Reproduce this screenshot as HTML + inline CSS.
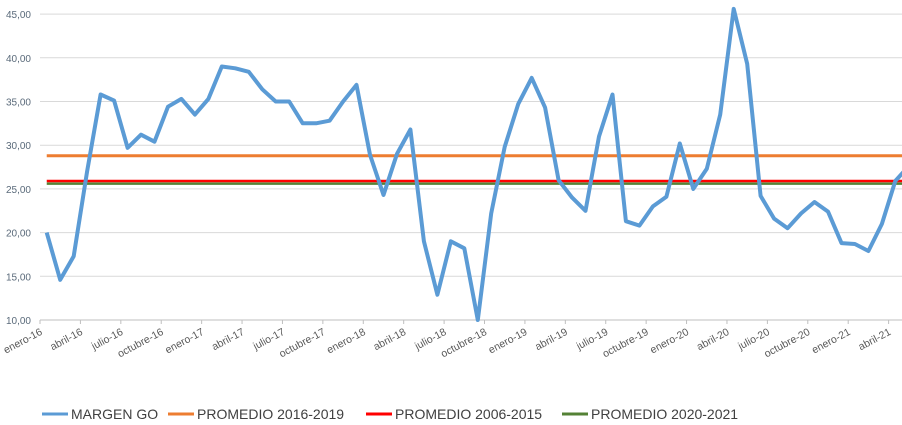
<!DOCTYPE html>
<html><head><meta charset="utf-8"><style>
body{margin:0;background:#fff;}
svg{display:block;font-family:"Liberation Sans",sans-serif;}
</style></head><body>
<svg id="chart" width="902" height="425">
<g id="grid"></g>
<g id="ylabels"></g>
<g id="xaxis"></g>
<g id="series"></g>
<g id="legend"></g>
</svg>
<script>
const yTicks=[10,15,20,25,30,35,40,45];
const yTickLabels=["10,00","15,00","20,00","25,00","30,00","35,00","40,00","45,00"];
const xTickLabels=["enero-16","abril-16","julio-16","octubre-16","enero-17","abril-17","julio-17","octubre-17","enero-18","abril-18","julio-18","octubre-18","enero-19","abril-19","julio-19","octubre-19","enero-20","abril-20","julio-20","octubre-20","enero-21","abril-21"];
const margenGO=[20.0,14.6,17.3,27.0,35.8,35.1,29.7,31.2,30.4,34.4,35.3,33.5,35.3,39.0,38.8,38.4,36.4,35.0,35.0,32.5,32.5,32.8,35.0,36.9,28.9,24.3,29.0,31.8,19.0,12.9,19.0,18.2,10.0,22.2,29.8,34.7,37.7,34.3,26.0,24.0,22.5,31.0,35.8,21.3,20.8,23.0,24.1,30.2,25.0,27.3,33.5,45.6,39.3,24.2,21.6,20.5,22.2,23.5,22.4,18.8,18.7,17.9,21.0,25.9,27.6];
const prom1619=28.8, prom0615=25.9, prom2021=25.6;
const NS="http://www.w3.org/2000/svg";
const X0=40,XW=13.47,Y0=320,YS=8.74;
const xs=i=>X0+XW*(i+0.5);
const ys=v=>Y0-(v-10)*YS;
function mk(t,a,p){const e=document.createElementNS(NS,t);for(const k in a)e.setAttribute(k,a[k]);p.appendChild(e);return e;}
const grid=document.getElementById('grid'),yl=document.getElementById('ylabels'),xa=document.getElementById('xaxis'),se=document.getElementById('series'),lg=document.getElementById('legend');
yTicks.forEach((v,i)=>{
 if(v>10){const g=mk('line',{x1:X0,x2:902,y1:ys(v),y2:ys(v),stroke:'#d9d9d9','stroke-width':1},grid);
 }
 const t=mk('text',{x:31,y:ys(v)+4,'text-anchor':'end','font-size':10,fill:'#5a6a7a'},yl);t.textContent=yTickLabels[i];
 
});
const ax=mk('line',{x1:X0,x2:902,y1:Y0,y2:Y0,stroke:'#bfbfbf','stroke-width':1},xa);

xTickLabels.forEach((l,i)=>{
 const tx=X0+XW*3*i;
 const tk=mk('line',{x1:tx,x2:tx,y1:Y0,y2:Y0+4,stroke:'#bfbfbf'},xa);
 
 const t=mk('text',{x:tx+3,y:Y0+14,'text-anchor':'end','font-size':10.5,fill:'#595959',transform:`rotate(-28 ${tx+3} ${Y0+14})`},xa);
 t.textContent=l;
});
function hline(v,c,w,name){const e=mk('line',{x1:xs(0),x2:902,y1:ys(v),y2:ys(v),stroke:c,'stroke-width':w},se);
 }
hline(prom1619,'#ed7d31',3,'promedio-2016-2019-line');
hline(prom2021,'#548235',2.5,'promedio-2020-2021-line');
hline(prom0615,'#ff0000',2.5,'promedio-2006-2015-line');
const d=margenGO.map((v,i)=>(i?'L':'M')+xs(i).toFixed(1)+','+ys(v).toFixed(1)).join(' ');
const cp=mk('clipPath',{id:'cp'},se);mk('rect',{x:0,y:0,width:902,height:425},cp);
const p=mk('path',{d:d,fill:'none',stroke:'#5b9bd5','stroke-width':4,'stroke-linejoin':'round','clip-path':'url(#cp)'},se);

const leg=[["MARGEN GO","#5b9bd5",42],["PROMEDIO 2016-2019","#ed7d31",168],["PROMEDIO 2006-2015","#ff0000",366],["PROMEDIO 2020-2021","#548235",562]];
leg.forEach(([n,c,x])=>{
 const g=mk('g',{},lg);
 mk('line',{x1:x,x2:x+26,y1:414,y2:414,stroke:c,'stroke-width':3},g);
 const t=mk('text',{x:x+29,y:419,'font-size':14,fill:'#404040'},g);t.textContent=n;
});
</script>
</body></html>
